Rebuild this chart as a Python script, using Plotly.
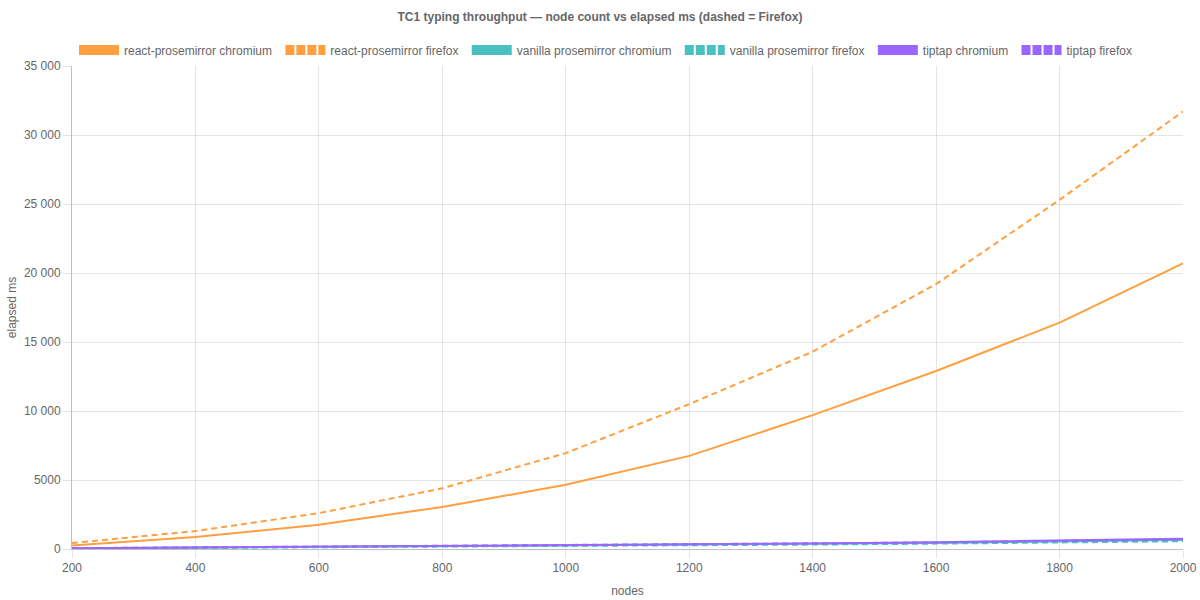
import plotly.graph_objects as go

nodes = [200, 400, 600, 800, 1000, 1200, 1400, 1600, 1800, 2000]

react_chromium = [250, 870, 1750, 3050, 4650, 6750, 9700, 12900, 16400, 20700]
react_firefox = [430, 1300, 2600, 4400, 6950, 10500, 14300, 19200, 25300, 31700]
vanilla_chromium = [40, 90, 140, 190, 240, 300, 360, 440, 540, 650]
vanilla_firefox = [30, 70, 110, 160, 210, 260, 320, 390, 470, 560]
tiptap_chromium = [50, 100, 160, 220, 270, 330, 400, 490, 600, 740]
tiptap_firefox = [60, 110, 170, 230, 290, 340, 410, 480, 570, 690]

y_tick_values = [0, 5000, 10000, 15000, 20000, 25000, 30000, 35000]
y_tick_labels = ["0", "5000", "10 000", "15 000", "20 000", "25 000", "30 000", "35 000"]

series = [
    ("react-prosemirror chromium", react_chromium, "rgb(255,159,64)", "solid"),
    ("react-prosemirror firefox", react_firefox, "rgb(255,159,64)", "6px,4px"),
    ("vanilla prosemirror chromium", vanilla_chromium, "rgb(75,192,192)", "solid"),
    ("vanilla prosemirror firefox", vanilla_firefox, "rgb(75,192,192)", "6px,4px"),
    ("tiptap chromium", tiptap_chromium, "rgb(153,102,255)", "solid"),
    ("tiptap firefox", tiptap_firefox, "rgb(153,102,255)", "6px,4px"),
]

FONT = "Liberation Sans, Arial, Helvetica, sans-serif"
fig = go.Figure()
for name, vals, color, dash in series:
    fig.add_trace(go.Scatter(x=nodes, y=vals, mode="lines", name=name,
                             line=dict(color=color, width=2, dash=dash),
                             showlegend=False, hoverinfo="x+y+name"))
for name, vals, color, dash in series:
    fig.add_trace(go.Scatter(x=[None], y=[None], mode="lines", name=name + " ",
                             line=dict(color=color, width=12,
                                       dash="9px,2px" if dash != "solid" else "solid"),
                             showlegend=True))

fig.update_layout(
    width=1200, height=600,
    paper_bgcolor="white", plot_bgcolor="white",
    margin=dict(l=72, r=17, t=66, b=51, autoexpand=False),
    font=dict(family=FONT, size=12, color="#666"),
    title=dict(text="<b>TC1 typing throughput — node count vs elapsed ms (dashed = Firefox)</b>",
               x=0.5, xanchor="center", y=1 - 17 / 600, yanchor="middle",
               font=dict(size=12, color="#666", family=FONT)),
    legend=dict(orientation="h", x=0.482, xanchor="center", y=1 - 50 / 600,
                yref="container", yanchor="middle",
                font=dict(size=12, color="#666"), itemwidth=40,
                tracegroupgap=0),
    xaxis=dict(range=[200, 2000], tickvals=nodes, showgrid=True,
               gridcolor="rgba(0,0,0,0.1)", zeroline=False,
               showline=True, linecolor="rgba(0,0,0,0.25)",
               ticks="outside", ticklen=8, tickcolor="rgba(0,0,0,0.1)",
               automargin=False,
               title=dict(text="nodes", standoff=12, font=dict(size=12, color="#666")),
               tickfont=dict(size=12, color="#666")),
    yaxis=dict(range=[0, 35000], tickvals=y_tick_values, ticktext=y_tick_labels,
               showgrid=True,
               gridcolor="rgba(0,0,0,0.1)", zeroline=False,
               showline=True, linecolor="rgba(0,0,0,0.25)",
               ticks="outside", ticklen=8, tickcolor="rgba(0,0,0,0.1)",
               automargin=False,
               title=dict(text="elapsed ms", standoff=4, font=dict(size=12, color="#666")),
               tickfont=dict(size=12, color="#666")),
)

fig.write_html("out.html")
